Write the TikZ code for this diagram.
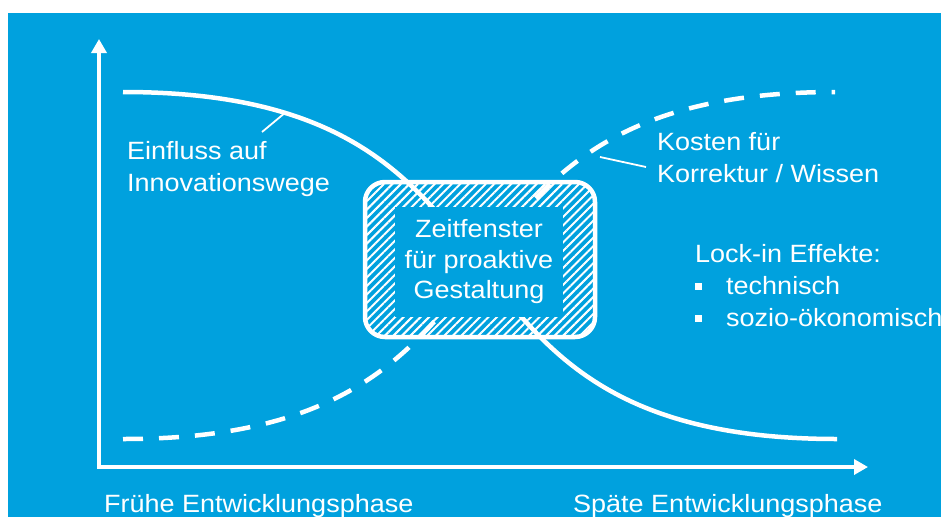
\documentclass[tikz,border=0pt]{standalone}
\usepackage{fontspec}
\setmainfont[FakeStretch=1.08]{Liberation Sans}
\usetikzlibrary{arrows.meta, patterns.meta, positioning}
\definecolor{bgblue}{HTML}{00A1DE}
\tikzset{
  axis/.style={line width=4pt, draw=white, miter limit=4,
               {Triangle[length=14pt, width=15pt]}-{Triangle[length=14pt, width=15pt]}},
  curve/.style={line width=4.5pt, draw=white},
  dcurve/.style={curve, dash pattern=on 20pt off 16pt},
  leader/.style={line width=1.8pt, draw=white},
  lbl/.style={text=white, align=left, inner sep=0pt,
              font=\fontsize{25}{32}\selectfont},
  winbox/.style={rounded corners=20pt, draw=white, line width=4.5pt,
                 pattern={Lines[angle=45, distance=6pt, line width=2pt]},
                 pattern color=white},
  winin/.style={fill=bgblue, inner sep=0pt, align=center, text=white,
                font=\fontsize{25}{30.5}\selectfont},
}
\newcommand{\sqbullet}{\rule[4pt]{7pt}{7pt}\hspace{24pt}}

\begin{document}
\begin{tikzpicture}[x=1pt, y=-1pt]
  % page and background
  \useasboundingbox (0,0) rectangle (941,517);
  \fill[white] (0,0) rectangle (941,517);
  \fill[bgblue] (8,13) rectangle (941,517);

  % axes
  \coordinate (o) at (99,467);
  \coordinate (ytip) at (99,39);
  \coordinate (xtip) at (868,467);
  \draw[axis] (ytip) -- (o) -- (xtip);

  % time window, hatched frame
  \node[winbox, minimum width=230pt, minimum height=155pt] (win) at (480,259.5) {};

  % curves
  \draw[curve] (123,92) .. controls (569,92) and (391,439) .. (837,439);
  \draw[dcurve] (123,439) .. controls (569,439) and (391,92) .. (835,92);

  \node[winin, minimum width=168pt, minimum height=110pt] (wintxt) at (479,262)
    {Zeitfenster\\für proaktive\\Gestaltung};

  % labels
  \node[lbl, anchor=north west] (einfl) at (127,141) {Einfluss auf\\Innovationswege};
  \node[lbl, anchor=north west] (kost) at (657,132) {Kosten für\\Korrektur / Wissen};
  \node[lbl, anchor=north west] (lock) at (695,244)
    {Lock-in Effekte:\\\sqbullet technisch\\\sqbullet sozio-ökonomisch};
  \node[lbl, anchor=north west] (early) at (104,494) {Frühe Entwicklungsphase};
  \node[lbl, anchor=north west] (late) at (573,494) {Späte Entwicklungsphase};

  % leader lines
  \coordinate (einflend) at (286,112);
  \coordinate (kostend) at (600,157);
  \draw[leader] (262,132) -- (einflend);
  \draw[leader] (646,167) -- (kostend);
\end{tikzpicture}
\end{document}
